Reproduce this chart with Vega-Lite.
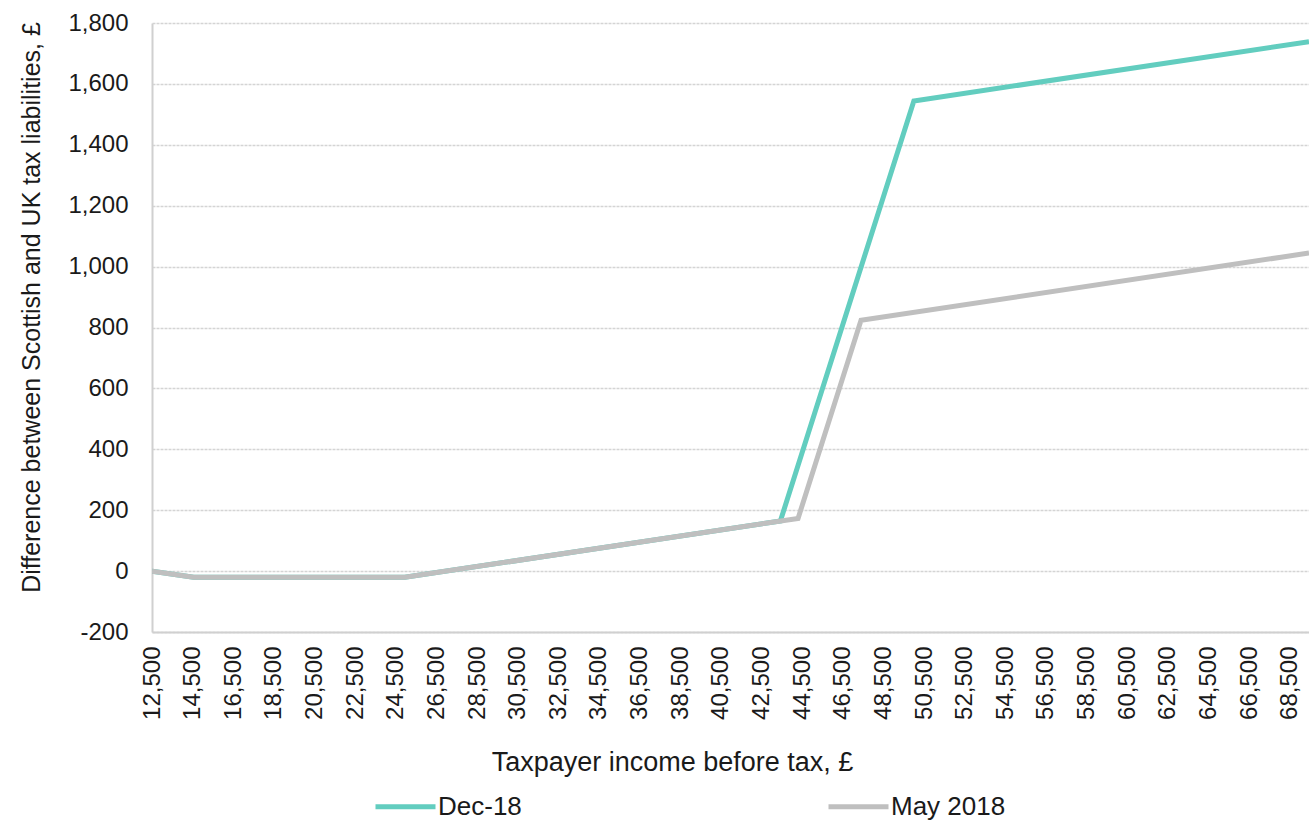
{
  "$schema": "https://vega.github.io/schema/vega-lite/v6.json",
  "width": 1157,
  "height": 609,
  "autosize": "none",
  "padding": {"left": 152, "top": 23, "right": 0, "bottom": 189},
  "background": "white",
  "config": {
    "font": "Liberation Sans",
    "view": {"stroke": null},
    "axis": {"labelFont": "Liberation Sans", "titleFont": "Liberation Sans", "labelColor": "#1a1a1a", "titleColor": "#1a1a1a", "titleFontWeight": "normal"}
  },
  "data": {
    "values": [
      {"income": 12500, "diff": 0, "series": "Dec-18"},
      {"income": 14549, "diff": -20.5, "series": "Dec-18"},
      {"income": 24944, "diff": -20.5, "series": "Dec-18"},
      {"income": 43430, "diff": 164.4, "series": "Dec-18"},
      {"income": 50000, "diff": 1544.1, "series": "Dec-18"},
      {"income": 69450, "diff": 1738.6, "series": "Dec-18"},
      {"income": 12500, "diff": 0, "series": "May 2018"},
      {"income": 14549, "diff": -20.5, "series": "May 2018"},
      {"income": 24944, "diff": -20.5, "series": "May 2018"},
      {"income": 44300, "diff": 173, "series": "May 2018"},
      {"income": 47400, "diff": 824, "series": "May 2018"},
      {"income": 69450, "diff": 1044.5, "series": "May 2018"}
    ]
  },
  "mark": {"type": "line", "strokeWidth": 5, "clip": true},
  "encoding": {
    "x": {
      "field": "income",
      "type": "quantitative",
      "scale": {"domain": [12500, 69450], "nice": false, "zero": false},
      "axis": {
        "title": "Taxpayer income  before tax, £",
        "titleFontSize": 27,
        "titlePadding": 30,
        "titleX": 520,
        "values": [12500, 14500, 16500, 18500, 20500, 22500, 24500, 26500, 28500, 30500, 32500, 34500, 36500, 38500, 40500, 42500, 44500, 46500, 48500, 50500, 52500, 54500, 56500, 58500, 60500, 62500, 64500, 66500, 68500],
        "format": ",.0f",
        "labelAngle": 270,
        "labelAlign": "right",
        "labelBaseline": "middle",
        "labelFontSize": 24,
        "labelPadding": 14,
        "ticks": false,
        "grid": false,
        "domainColor": "#d0d0d0",
        "domainWidth": 2,
        "labelOverlap": false,
        "labelFlush": false
      }
    },
    "y": {
      "field": "diff",
      "type": "quantitative",
      "scale": {"domain": [-200, 1800], "nice": false},
      "axis": {
        "title": "Difference  between Scottish  and UK tax liabilities,  £",
        "titleFontSize": 25,
        "titlePadding": 23,
        "titleY": 284,
        "values": [-200, 0, 200, 400, 600, 800, 1000, 1200, 1400, 1600, 1800],
        "format": ",.0f",
        "labelExpr": "replace(datum.label, '\u2212', '-')",
        "labelFontSize": 24,
        "labelPadding": 24,
        "ticks": false,
        "grid": true,
        "gridColor": "#d4d4d4",
        "gridDash": [3, 1],
        "gridWidth": 1.5,
        "domainColor": "#d0d0d0",
        "domainWidth": 2
      }
    },
    "color": {
      "field": "series",
      "type": "nominal",
      "scale": {"domain": ["Dec-18", "May 2018"], "range": ["#62CDBF", "#BFBFBF"]},
      "legend": {
        "title": null,
        "orient": "none",
        "legendX": 221,
        "legendY": 751,
        "direction": "horizontal",
        "columns": 2,
        "columnPadding": 296,
        "symbolType": "stroke",
        "symbolSize": 3600,
        "symbolStrokeWidth": 5,
        "labelFontSize": 26,
        "labelColor": "#1a1a1a",
        "labelOffset": 0,
        "padding": 0
      }
    }
  }
}
